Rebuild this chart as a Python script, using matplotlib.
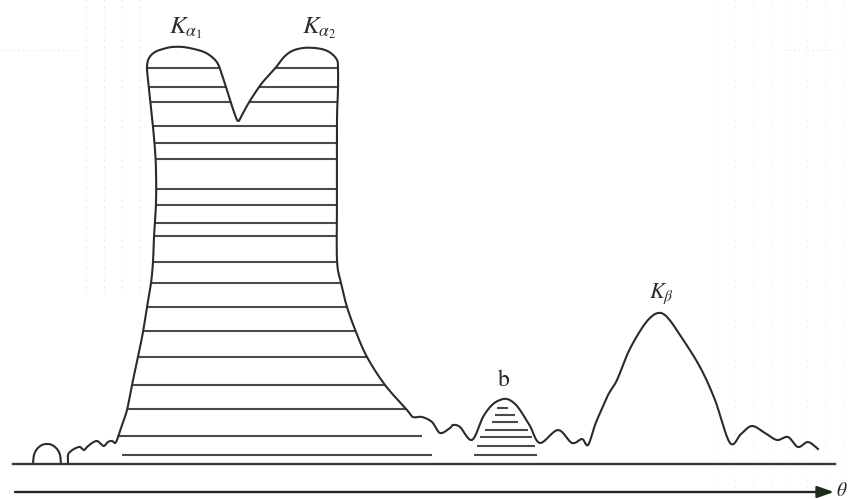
import numpy as np
import matplotlib.pyplot as plt

plt.rcParams['mathtext.fontset'] = 'stix'
plt.rcParams['font.family'] = 'STIXGeneral'

# Spectrum outline: x position and pixel row
# (the baseline sits at row 464 in the original, so height = 464 - row)
arch_x = [33, 34, 37, 42, 47, 52, 57, 60, 61]
arch_y = [464, 455, 449, 445, 444, 445, 449, 455, 464]

curve_x = [68, 68, 71, 76, 80, 84, 87, 92, 97, 101, 104, 108, 112, 115, 117, 118,
           122, 127, 132, 138, 143, 147, 151, 153, 154, 156, 156, 155, 153, 150, 148, 147,
           149, 155, 163, 172, 183, 194, 204, 212, 218, 222, 226, 230, 234, 238,
           242, 248, 255, 262, 270, 277, 284, 292, 303, 315, 325, 332, 337, 338,
           338, 337, 337, 337, 341, 347, 356, 367, 385, 407, 413, 422, 432, 440, 450,
           453, 460, 472, 483, 492, 500, 507, 514, 520, 530, 540, 558, 572, 582, 588,
           595, 600, 608, 617, 627, 637, 648, 658, 667, 680, 700, 715, 730, 741, 752,
           765, 777, 788, 798, 808, 818]
curve_y = [464, 455, 451, 448, 447, 450, 447, 443, 441, 444, 446, 442, 441, 443, 440, 437,
           425, 410, 385, 357, 332, 307, 283, 262, 237, 203, 170, 150, 127, 100, 80, 67,
           58, 52, 49, 47, 47, 49, 52, 57, 64, 75, 87, 100, 112, 121,
           115, 104, 93, 83, 74, 66, 57, 51, 48, 48, 50, 54, 60, 67,
           90, 120, 200, 260, 283, 307, 332, 357, 385, 410, 417, 417, 422, 433, 428,
           425, 427, 440, 417, 405, 400, 399, 403, 410, 426, 443, 430, 443, 439, 445,
           425, 413, 395, 380, 355, 336, 320, 313, 317, 335, 367, 400, 443, 434, 426,
           433, 440, 437, 447, 442, 449]

# Hatching of the K-alpha peak (levels inside the outline)
ka_hatch_levels = [68, 87, 102, 126, 143, 159, 189, 205, 223, 236, 262, 283,
                   307, 331, 357, 385, 409]
# Lower hatch lines that run past the outline
ka_low_levels = [436, 455]
ka_low_start = [118, 122]
ka_low_end = [422, 432]

# Hatching of the small peak b
b_levels = [408, 415, 422, 430, 437, 446, 455]
b_start = [497, 495, 492, 485, 480, 477, 474]
b_end = [508, 515, 518, 528, 532, 535, 537]

labels = ['$K_{\\alpha_1}$', '$K_{\\alpha_2}$', '$K_{\\beta}$', 'b']
label_x = [186, 319, 661, 504]
label_y = [28, 28, 294, 380]
label_size = [18, 18, 16, 17]

base = 464
ink = '#2b2b2b'
hatch_col = '#4a4a4a'


def h(v):
    return base - np.asarray(v, dtype=float)


def smooth(xs, ys, n=8):
    # Catmull-Rom pass through the read points, for a hand-drawn look
    p = np.column_stack([xs, ys]).astype(float)
    p = np.vstack([p[0], p, p[-1]])
    out = []
    t = np.linspace(0, 1, n, endpoint=False)[:, None]
    for i in range(1, len(p) - 2):
        p0, p1, p2, p3 = p[i - 1], p[i], p[i + 1], p[i + 2]
        seg = 0.5 * ((2 * p1) + (-p0 + p2) * t + (2 * p0 - 5 * p1 + 4 * p2 - p3) * t ** 2
                     + (-p0 + 3 * p1 - 3 * p2 + p3) * t ** 3)
        out.append(seg)
    out.append(p[-2][None, :])
    out = np.vstack(out)
    return out[:, 0], out[:, 1]


def crossings(xs, ys, level, xmin, xmax):
    pts = []
    for i in range(len(xs) - 1):
        x0, y0, x1, y1 = xs[i], ys[i], xs[i + 1], ys[i + 1]
        if not (xmin <= x0 <= xmax and xmin <= x1 <= xmax):
            continue
        if (y0 < level) != (y1 < level):
            t = (level - y0) / (y1 - y0)
            pts.append(x0 + t * (x1 - x0))
    return sorted(pts)


sx, sy = smooth(curve_x, curve_y)
ax_, ay_ = smooth(arch_x, arch_y)

fig = plt.figure(figsize=(8.52, 4.99), dpi=100)
ax = fig.add_axes([0, 0, 1, 1])
ax.set_xlim(0, 852)
ax.set_ylim(base - 499, base)
ax.axis('off')

# faint scan dots in the background
for gx in [86, 104, 122, 140]:
    ax.plot([gx, gx], h([0, 300]), ls=(0, (1, 5)), color='#e9d4ea', lw=0.8, zorder=0)
for gx in [717, 735, 753, 771, 789, 807, 825, 843]:
    ax.plot([gx, gx], h([0, 499]), ls=(0, (1, 5)), color='#e4efe2', lw=0.8, zorder=0)
ax.plot([0, 80], h([50, 50]), ls=(0, (1, 3)), color='#efd6ef', lw=0.8, zorder=0)
ax.plot([785, 835], h([50, 50]), ls=(0, (1, 3)), color='#efd6ef', lw=0.8, zorder=0)

# hatching
for lev in ka_hatch_levels:
    xs = crossings(sx, sy, lev, 118, 413)
    for a, b in zip(xs[0::2], xs[1::2]):
        ax.plot([a, b], h([lev, lev]), color=hatch_col, lw=1.5, solid_capstyle='butt')
for lev, a, b in zip(ka_low_levels, ka_low_start, ka_low_end):
    ax.plot([a, b], h([lev, lev]), color=hatch_col, lw=1.5, solid_capstyle='butt')
for lev, a, b in zip(b_levels, b_start, b_end):
    ax.plot([a, b], h([lev, lev]), color=hatch_col, lw=1.5, solid_capstyle='butt')

# outline
ax.plot(ax_, h(ay_), color=ink, lw=1.5)
ax.plot(sx, h(sy), color=ink, lw=1.5)

# baseline and axis arrow
ax.plot([13, 835], h([464, 464]), color='#2f3d2f', lw=1.7)
ax.annotate('', xy=(834, h(492)), xytext=(15, h(492)),
            arrowprops=dict(arrowstyle='-|>,head_length=1.0,head_width=0.35',
                            color='#1f2a1f', lw=1.7, shrinkA=0, shrinkB=0))
ax.text(836, h(491), '$\\theta$', fontsize=14, ha='left', va='center', color=ink)

for t, x, y, s in zip(labels, label_x, label_y, label_size):
    ax.text(x, h(y), t, fontsize=s, ha='center', va='center', color=ink)

fig.savefig('out.png', dpi=100)
